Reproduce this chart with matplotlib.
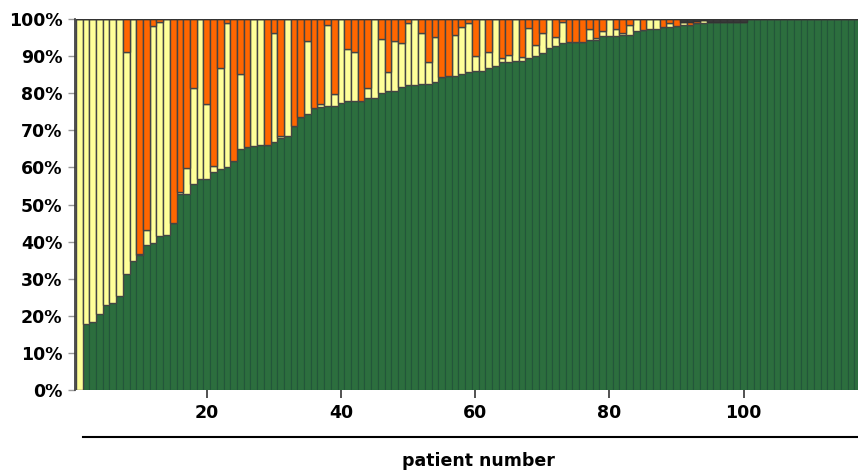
import matplotlib
matplotlib.use("Agg")
import matplotlib.pyplot as plt
from matplotlib.lines import Line2D
import numpy as np

# share of each patient's result, in percent (stacked bottom -> top)
green = [0, 17.9, 18.4, 20.6, 22.8, 23.5, 25.4, 31.4, 34.9, 36.3,
         39.2, 39.7, 41.4, 41.8, 45.0, 52.7, 52.7, 55.4, 56.9, 56.9,
         58.7, 59.6, 60.0, 61.6, 65.0, 65.4, 65.7, 66.0, 66.0, 66.9,
         67.8, 68.5, 71.2, 73.5, 74.4, 76.0, 76.2, 76.5, 76.5, 77.3,
         77.8, 77.8, 77.8, 78.6, 78.6, 80.0, 80.5, 80.5, 81.8, 82.2,
         82.2, 82.6, 82.6, 83.1, 84.4, 84.7, 84.7, 85.3, 85.6, 86.0,
         86.0, 86.9, 87.4, 88.3, 88.3, 88.7, 88.7, 89.6, 90.1, 90.8,
         92.1, 92.6, 93.4, 93.9, 93.9, 93.9, 94.4, 94.4, 95.3, 95.3,
         95.3, 95.6, 95.6, 96.8, 97.0, 97.3, 97.3, 97.8, 97.8, 98.1,
         98.5, 98.5, 98.8, 99.0, 99.3, 99.3, 99.3, 99.3, 99.3, 99.3,
         100, 100, 100, 100, 100, 100, 100, 100, 100, 100,
         100, 100, 100, 100, 100, 100, 100]
yellow = [100, 82.1, 81.6, 79.4, 77.2, 76.5, 74.6, 59.8, 65.1, 0.3,
          3.8, 58.4, 57.8, 58.2, 0, 0.8, 7.2, 25.9, 43.1, 20.3,
          1.8, 27.1, 39.0, 0, 20.1, 0.2, 34.3, 34.0, 0, 29.4,
          0.7, 31.5, 0, 0, 19.7, 0, 1.0, 22.0, 3.3, 22.7,
          14.2, 13.3, 0, 2.9, 21.4, 14.5, 5.3, 13.6, 11.6, 16.8,
          17.8, 13.7, 5.9, 12.1, 0, 0, 11.0, 12.5, 13.4, 4.1,
          14.0, 4.3, 12.6, 1.1, 2.0, 11.3, 1.1, 7.9, 2.8, 5.5,
          7.9, 2.6, 5.8, 0, 0, 0, 2.9, 0.6, 1.5, 4.7,
          2.0, 0.7, 2.9, 3.2, 0, 2.7, 2.7, 0, 1.0, 0,
          0.7, 0, 0, 0.6, 0, 0, 0, 0, 0, 0,
          0, 0, 0, 0, 0, 0, 0, 0, 0, 0,
          0, 0, 0, 0, 0, 0, 0]
orange = [0, 0, 0, 0, 0, 0, 0, 8.8, 0, 63.4,
          57.0, 1.9, 0.8, 0, 55.0, 46.5, 40.1, 18.7, 0, 22.8,
          39.5, 13.3, 1.0, 38.4, 14.9, 34.4, 0, 0, 34.0, 3.7,
          31.5, 0, 28.8, 26.5, 5.9, 24.0, 22.8, 1.5, 20.2, 0,
          8.0, 8.9, 22.2, 18.5, 0, 5.5, 14.2, 5.9, 6.6, 1.0,
          0, 3.7, 11.5, 4.8, 15.6, 15.3, 4.3, 2.2, 1.0, 9.9,
          0, 8.8, 0, 10.6, 9.7, 0, 10.2, 2.5, 7.1, 3.7,
          0, 4.8, 0.8, 6.1, 6.1, 6.1, 2.7, 5.0, 3.2, 0,
          2.7, 3.7, 1.5, 0, 3.0, 0, 0, 2.2, 1.2, 1.9,
          0, 0.8, 0.6, 0, 0, 0, 0, 0, 0, 0,
          0, 0, 0, 0, 0, 0, 0, 0, 0, 0,
          0, 0, 0, 0, 0, 0, 0]
dark = [0] * 90 + [0.8, 0.7, 0.6, 0.4, 0.7, 0.7, 0.7, 0.7, 0.7, 0.7] + [0] * 17

x_ticks = [20, 40, 60, 80, 100]
y_ticks = list(range(0, 101, 10))

patients = np.arange(1, len(green) + 1)
# (values, fill, edge, edge width)
layers = [(green, "#2C6E3E", "#23563A", 0.8),
          (yellow, "#FFFF99", "#444444", 1.0),
          (orange, "#FF6600", "#444444", 1.0),
          (dark, "#3A3A3A", "#333333", 1.0)]

fig = plt.figure(figsize=(8.58, 4.70), dpi=100)
ax = fig.add_axes([75 / 858, 80 / 470, 783 / 858, 371 / 470])

bottom = np.zeros(len(patients))
for vals, col, ec, lw in layers:
    vals = np.asarray(vals, dtype=float)
    ax.bar(patients, vals, bottom=bottom, width=1.0, color=col,
           edgecolor=ec, linewidth=lw)
    bottom += vals

ax.set_xlim(0.36, 117.06)
ax.set_ylim(0, 100)
ax.set_xticks(x_ticks)
ax.set_yticks(y_ticks)
ax.set_yticklabels([f"{v}%" for v in y_ticks])

for s in ("top", "right", "bottom"):
    ax.spines[s].set_visible(False)
ax.spines["left"].set_color("#333333")
ax.spines["left"].set_linewidth(1.2)

ax.tick_params(axis="y", length=5, width=1, color="#999999", pad=4)
ax.tick_params(axis="x", length=6, width=1.2, color="#333333", pad=4)
for lab in ax.get_xticklabels() + ax.get_yticklabels():
    lab.set_fontweight("bold")
    lab.set_fontsize(12.5)
    lab.set_color("black")

# rule above the axis title
fig.add_artist(Line2D([83 / 858, 1.0], [1 - 437 / 470] * 2, color="black", lw=1.5))
fig.text(478 / 858, 1 - 461 / 470, "patient number", ha="center", va="center",
         fontsize=12.5, fontweight="bold")

fig.savefig("out.png", dpi=100)
